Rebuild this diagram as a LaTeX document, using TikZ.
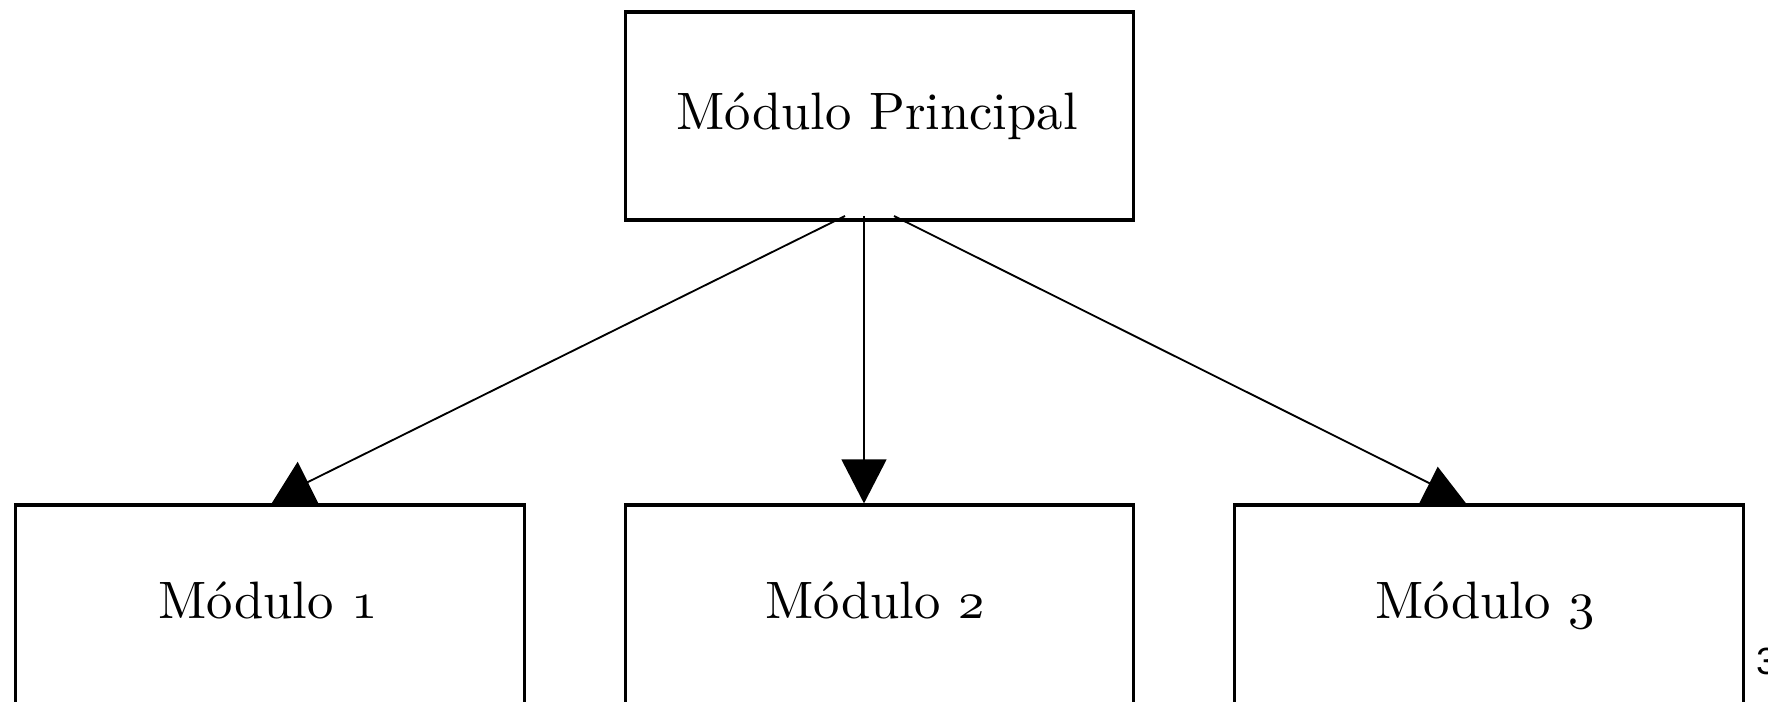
\documentclass[tikz,border=0pt]{standalone}
\usepackage{fontspec}
\newfontfamily\arialfont{Liberation Sans}
\usetikzlibrary{arrows.meta}
\newcommand{\osnum}[1]{{\usefont{OML}{cmm}{m}{it}#1}}
\begin{document}
\begin{tikzpicture}[x=0.19pt,y=-0.19pt,
  box/.style={draw, line width=0.6pt, minimum width=96.6pt, minimum height=39.5pt, inner sep=0pt},
  lbl/.style={anchor=base, inner sep=0pt, font=\fontsize{10}{12}\selectfont},
  thinlink/.style={line width=0.35pt},
  thicklink/.style={line width=0.55pt, -{Triangle[width=8.5pt,length=8.4pt]}},
  headtri/.style={fill=black}]
\useasboundingbox (0,0) rectangle (1768,702);
\clip (0,0) rectangle (1768,702);
% boxes
\node[box] (top) at (879.5,116) {};
\node[box] (m1) at (270,609) {};
\node[box] (m2) at (879.5,609) {};
\node[box] (m3) at (1489,609) {};
% texts
\node[lbl] (t0) at (877,130) {Módulo Principal};
\node[lbl] (t1) at (268,619) {Módulo \osnum{1}};
\node[lbl] (t2) at (875,619) {Módulo \osnum{2}};
\node[lbl] (t3) at (1485,619) {Módulo \osnum{3}};
\node[anchor=base west, inner sep=0pt, font=\arialfont\fontsize{7.2}{8}\selectfont] (pg) at (1755,675) {3};
% connector points
\coordinate (s1) at (845,216);
\coordinate (s2) at (864,216);
\coordinate (s3) at (894,216);
\coordinate (e1) at (304,484);
\coordinate (e3) at (1433,485);
% connectors
\draw[thinlink] (s1) -- (e1);
\draw[thinlink] (s3) -- (e3);
\draw[thicklink] (s2) -- (s2 |- m2.north);
% upward-pointing heads sitting on boxes 1 and 3
\fill[headtri] (297.7,461.7) -- (318.3,503.3) -- (271.7,503.3) -- cycle;
\fill[headtri] (1437.7,466.7) -- (1466,503.3) -- (1419.3,503.3) -- cycle;
\end{tikzpicture}
\end{document}
